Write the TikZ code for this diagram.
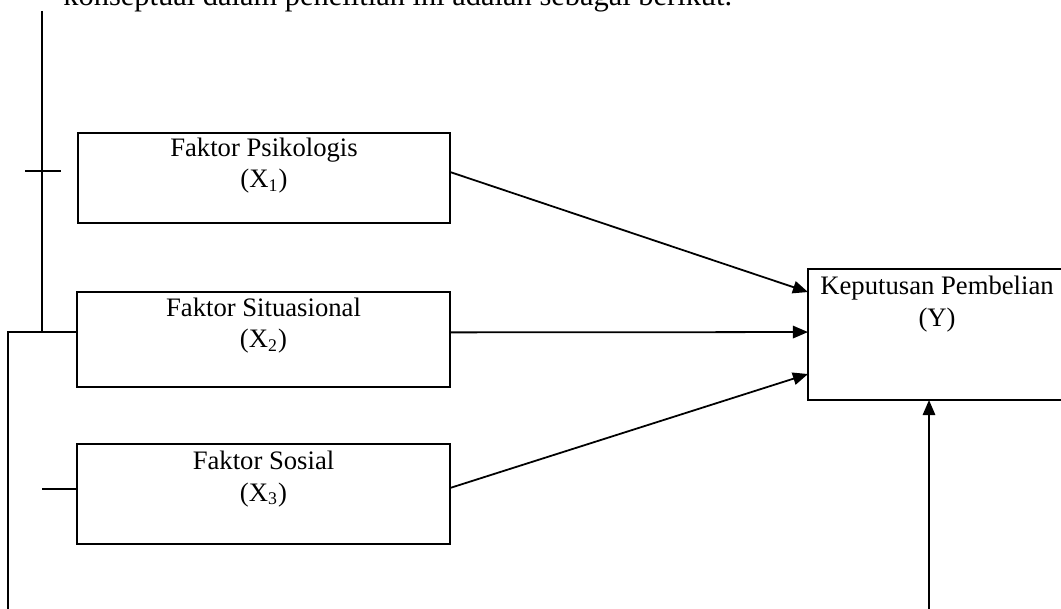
\documentclass[tikz,border=0pt]{standalone}
\usepackage{fontspec}
\setmainfont{Liberation Serif}
\usetikzlibrary{arrows.meta}
\tikzset{
  box/.style={draw, line width=0.85pt, inner sep=0pt, outer sep=0pt},
  lbl/.style={anchor=base, inner sep=0pt, font=\fontsize{12pt}{14pt}\selectfont},
  conn/.style={line width=0.8pt},
  arr/.style={line width=0.8pt, -{Triangle[length=6.8pt,width=5.6pt]}}
}
\begin{document}
\begin{tikzpicture}[x=0.45pt,y=-0.45pt]
\useasboundingbox (0,0) rectangle (1061,609);
% top text (cut off)
\node[lbl, anchor=base west, font=\fontsize{13.7pt}{16pt}\selectfont] (top) at (63,6) {konseptual dalam penelitian ini adalah sebagai berikut.};
% boxes
\node[box, minimum width=167.4pt, minimum height=40.5pt] (x1) at (264,178) {};
\node[box, minimum width=167.85pt, minimum height=42.75pt] (x2) at (263.5,339.5) {};
\node[box, minimum width=167.85pt, minimum height=45pt] (x3) at (263.5,494) {};
\node[box, minimum width=116.1pt, minimum height=58.95pt] (y) at (937,334.5) {};
% labels
\node[lbl] (x1a) at (264,157) {Faktor Psikologis};
\node[lbl] (x1b) at (264,188) {(X\textsubscript{1})};
\node[lbl] (x2a) at (263.5,317) {Faktor Situasional};
\node[lbl] (x2b) at (263.5,348) {(X\textsubscript{2})};
\node[lbl] (x3a) at (263.5,470) {Faktor Sosial};
\node[lbl] (x3b) at (263.5,501) {(X\textsubscript{3})};
\node[lbl] (ya) at (937,295) {Keputusan Pembelian};
\node[lbl] (yb) at (937,327) {(Y)};
% left connectors
\coordinate (vtop) at (42,11);
\coordinate (vj) at (42,332);
\coordinate (tl) at (25,171);
\coordinate (tr) at (61,171);
\coordinate (lc) at (8,332);
\coordinate (lb) at (8,615);
\coordinate (sl) at (42,489);
\draw[conn] (vtop) -- (vj);
\draw[conn] (tl) -- (tr);
\draw[conn] (lb) -- (lc) -- ([yshift=3.4pt]x2.west);
\draw[conn] (sl) -- ([yshift=2.25pt]x3.west);
% arrows to Y
\draw[arr] ([yshift=2.7pt]x1.east) -- ([yshift=19.1pt]y.west);
\draw[arr] ([yshift=3.2pt]x2.east) -- ([yshift=1.1pt]y.west);
\draw[arr] ([yshift=2.7pt]x3.east) -- ([yshift=-17.8pt]y.west);
\coordinate (yb0) at (929,615);
\draw[arr] (yb0) -- ([xshift=-3.6pt]y.south);
\end{tikzpicture}
\end{document}
